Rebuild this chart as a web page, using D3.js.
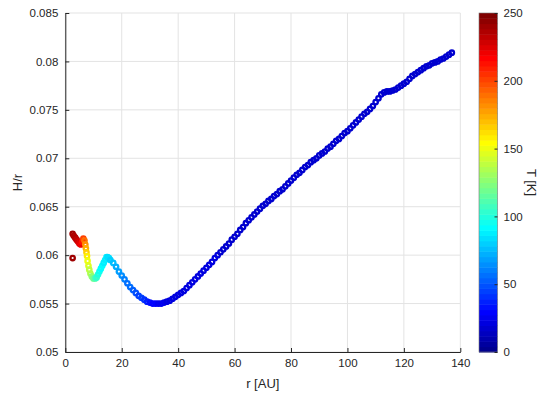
<!DOCTYPE html>
<html>
<head>
<meta charset="utf-8">
<script src="https://cdn.jsdelivr.net/npm/d3@7"></script>
<style>
  html, body { margin: 0; padding: 0; background: #fff; }
  svg { display: block; font-family: "Liberation Sans", Arial, sans-serif; }
</style>
</head>
<body>
<svg id="chart" width="539" height="394"></svg>
<script>
// Radius [AU]
const radius = [
  2.6,
  2.6, 3.0, 3.5, 4.0, 4.5, 5.0, 5.5, 6.0, 6.4, 6.8, 7.1, 7.3, 7.5, 7.7, 7.9,
  8.2, 8.5, 8.9, 9.4, 10.0, 10.6, 11.1, 11.6, 12.1, 12.6, 13.1, 13.6, 14.1, 14.6, 15.0, 15.5,
  16, 17, 18, 19, 20, 21, 22, 23, 24, 25, 26, 27, 28, 29, 30,
  31, 32, 33, 34, 35, 36, 37, 38, 39, 40, 41, 42, 43, 44, 45,
  46, 47, 48, 49, 50, 51, 52, 53, 54, 55, 56, 57, 58, 59, 60,
  61, 62, 63, 64, 65, 66, 67, 68, 69, 70, 71, 72, 73, 74, 75,
  76, 77, 78, 79, 80, 81, 82, 83, 84, 85, 86, 87, 88, 89, 90,
  91, 92, 93, 94, 95, 96, 97, 98, 99, 100, 101, 102, 103, 104, 105,
  106, 107, 108, 109, 110, 111, 112, 113, 114, 115, 116, 117, 118, 119, 120,
  121, 122, 123, 124, 125, 126, 127, 128, 129, 130, 131, 132, 133, 134, 135,
  136, 137
];

// Aspect ratio H/r
const aspect = [
  0.0597,
  0.0622, 0.0620, 0.0618, 0.0616, 0.0614, 0.0612, 0.0611, 0.0614, 0.0617, 0.0615, 0.0611, 0.0607, 0.0603, 0.0599, 0.0594,
  0.0589, 0.0585, 0.0581, 0.0578, 0.0576, 0.0576, 0.0577, 0.0580, 0.0583, 0.0586, 0.0589, 0.0592, 0.0595, 0.0598, 0.0598, 0.0597,
  0.0595, 0.0592, 0.0588, 0.0583, 0.0579, 0.0575, 0.0571, 0.0567, 0.0564, 0.0561, 0.0558, 0.0556, 0.0554, 0.0552, 0.0551,
  0.0550, 0.0550, 0.0550, 0.0550, 0.0551, 0.0552, 0.0553, 0.0555, 0.0557, 0.0559, 0.0561, 0.0563, 0.0566, 0.0569, 0.0572,
  0.0575, 0.0578, 0.0581, 0.0584, 0.0587, 0.0590, 0.0593, 0.0597, 0.0600, 0.0603, 0.0606, 0.0609, 0.0612, 0.0616, 0.0619,
  0.0622, 0.0626, 0.0629, 0.0633, 0.0636, 0.0639, 0.0642, 0.0645, 0.0648, 0.0651, 0.0653, 0.0656, 0.0658, 0.0661, 0.0663,
  0.0666, 0.0668, 0.0671, 0.0674, 0.0677, 0.0680, 0.0683, 0.0685, 0.0688, 0.0691, 0.0693, 0.0696, 0.0698, 0.0700, 0.0703,
  0.0705, 0.0707, 0.0710, 0.0712, 0.0715, 0.0718, 0.0720, 0.0723, 0.0726, 0.0728, 0.0731, 0.0734, 0.0737, 0.0740, 0.0743,
  0.0746, 0.0748, 0.0751, 0.0754, 0.0758, 0.0762, 0.0766, 0.0768, 0.0769, 0.0769, 0.0770, 0.0771, 0.0773, 0.0775, 0.0777,
  0.0779, 0.0782, 0.0785, 0.0787, 0.0789, 0.0791, 0.0793, 0.0795, 0.0796, 0.0798, 0.0799, 0.0800, 0.0802, 0.0803, 0.0805,
  0.0807, 0.0809
];

// Temperature [K]
const temperature = [
  240,
  240, 238, 235, 232, 228, 224, 220, 212, 200, 190, 180, 172, 165, 158, 152,
  146, 140, 133, 126, 118, 110, 104, 99, 96, 93, 91, 89, 87, 86, 85, 84,
  82, 78, 74, 70, 66, 62, 58, 55, 52, 49, 46, 43, 40, 37, 34,
  31, 29, 27, 25, 24, 23, 22, 21, 21, 21, 20, 20, 20, 20, 20,
  20, 20, 20, 20, 20, 20, 20, 20, 20, 19, 19, 19, 19, 19, 19,
  19, 19, 19, 19, 19, 19, 19, 19, 19, 19, 18, 18, 18, 18, 18,
  18, 18, 18, 18, 18, 18, 18, 18, 18, 18, 18, 18, 18, 18, 18,
  17, 17, 17, 17, 17, 17, 17, 17, 17, 17, 17, 17, 17, 17, 17,
  17, 17, 17, 17, 17, 17, 17, 17, 17, 17, 17, 17, 17, 17, 17,
  16, 16, 16, 16, 16, 16, 16, 16, 16, 16, 16, 16, 16, 16, 16,
  16, 16
];

const xTicks = [0, 20, 40, 60, 80, 100, 120, 140];
const yTicks = [0.05, 0.055, 0.06, 0.065, 0.07, 0.075, 0.08, 0.085];
const cTicks = [0, 50, 100, 150, 200, 250];

const xLabel = "r [AU]";
const yLabel = "H/r";
const cLabel = "T [K]";

// MATLAB-style jet colormap with 64 entries
function jetMap(m) {
  const n = Math.ceil(m / 4);
  const u = [];
  for (let i = 1; i <= n; i++) u.push(i / n);
  for (let i = 1; i < n; i++) u.push(1);
  for (let i = n; i >= 1; i--) u.push(i / n);
  const off = Math.ceil(n / 2) - (m % 4 === 1 ? 1 : 0);
  const cols = [];
  for (let k = 1; k <= m; k++) {
    const gi = k - off, ri = k - off - n, bi = k - off + n;
    const at = i => (i >= 1 && i <= u.length) ? u[i - 1] : 0;
    cols.push(d3.rgb(255 * at(ri), 255 * at(gi), 255 * at(bi)).formatHex());
  }
  return cols;
}
const jet = jetMap(64);
const cDomain = [0, 250];
const colorOf = t => {
  let k = Math.floor((t - cDomain[0]) / (cDomain[1] - cDomain[0]) * jet.length);
  k = Math.max(0, Math.min(jet.length - 1, k));
  return jet[k];
};

const svg = d3.select("#chart");
const axisColor = "#262626";
const gridColor = "#e3e3e3";

const plot = { left: 65.3, right: 460.3, top: 13, bottom: 352 };
const x = d3.scaleLinear().domain([0, 140]).range([plot.left, plot.right]);
const y = d3.scaleLinear().domain([0.05, 0.085]).range([plot.bottom, plot.top]);

// grid
const grid = svg.append("g");
grid.selectAll(".gx").data(xTicks).join("line")
  .attr("x1", d => x(d)).attr("x2", d => x(d))
  .attr("y1", plot.top).attr("y2", plot.bottom)
  .attr("stroke", gridColor).attr("stroke-width", 1);
grid.selectAll(".gy").data(yTicks).join("line")
  .attr("x1", plot.left).attr("x2", plot.right)
  .attr("y1", d => y(d)).attr("y2", d => y(d))
  .attr("stroke", gridColor).attr("stroke-width", 1);

// scatter markers (open circles coloured by temperature)
const pts = radius.map((r, i) => ({ r, h: aspect[i], t: temperature[i] }));
svg.append("g").selectAll("circle").data(pts).join("circle")
  .attr("cx", d => x(d.r)).attr("cy", d => y(d.h))
  .attr("r", 2.2)
  .attr("fill", "none")
  .attr("stroke", d => colorOf(d.t))
  .attr("stroke-width", 2.3);

// axes
const fmt = d => String(+d.toFixed(3));
const xAxis = d3.axisBottom(x).tickValues(xTicks).tickSizeInner(-4).tickSizeOuter(0).tickPadding(7).tickFormat(d3.format("d"));
const yAxis = d3.axisLeft(y).tickValues(yTicks).tickSizeInner(-4).tickSizeOuter(0).tickPadding(7).tickFormat(fmt);

const gx = svg.append("g").attr("transform", `translate(0,${plot.bottom})`).call(xAxis);
const gy = svg.append("g").attr("transform", `translate(${plot.left},0)`).call(yAxis);
[gx, gy].forEach(g => {
  g.select(".domain").attr("stroke", axisColor);
  g.selectAll(".tick line").attr("stroke", axisColor);
  g.selectAll(".tick text").attr("fill", axisColor).attr("font-size", 11.5)
    .attr("font-family", "'Liberation Sans', Arial, sans-serif");
});

svg.append("text")
  .attr("x", (plot.left + plot.right) / 2).attr("y", 388)
  .attr("text-anchor", "middle").attr("fill", axisColor).attr("font-size", 13)
  .text(xLabel);
svg.append("text")
  .attr("transform", `translate(22,${(plot.top + plot.bottom) / 2}) rotate(-90)`)
  .attr("text-anchor", "middle").attr("fill", axisColor).attr("font-size", 13)
  .text(yLabel);

// colorbar
const cb = { left: 479, width: 18.5, top: 13, bottom: 352 };
const cScale = d3.scaleLinear().domain(cDomain).range([cb.bottom, cb.top]);
const bandH = (cb.bottom - cb.top) / jet.length;
const cbar = svg.append("g");
cbar.selectAll("rect").data(jet).join("rect")
  .attr("x", cb.left)
  .attr("y", (c, i) => cb.bottom - (i + 1) * bandH)
  .attr("width", cb.width)
  .attr("height", bandH + 0.5)
  .attr("fill", c => c);
cbar.append("rect")
  .attr("x", cb.left).attr("y", cb.top)
  .attr("width", cb.width).attr("height", cb.bottom - cb.top)
  .attr("fill", "none").attr("stroke", "#777").attr("stroke-width", 0.6);

const cAxis = d3.axisRight(cScale).tickValues(cTicks).tickSizeInner(-3).tickSizeOuter(0).tickPadding(6).tickFormat(d3.format("d"));
const gc = svg.append("g").attr("transform", `translate(${cb.left + cb.width},0)`).call(cAxis);
gc.select(".domain").remove();
gc.selectAll(".tick line").attr("stroke", axisColor);
gc.selectAll(".tick text").attr("fill", axisColor).attr("font-size", 11.5)
  .attr("font-family", "'Liberation Sans', Arial, sans-serif");

svg.append("text")
  .attr("transform", `translate(527,${(cb.top + cb.bottom) / 2}) rotate(90)`)
  .attr("text-anchor", "middle").attr("fill", axisColor).attr("font-size", 13)
  .text(cLabel);
</script>
</body>
</html>
